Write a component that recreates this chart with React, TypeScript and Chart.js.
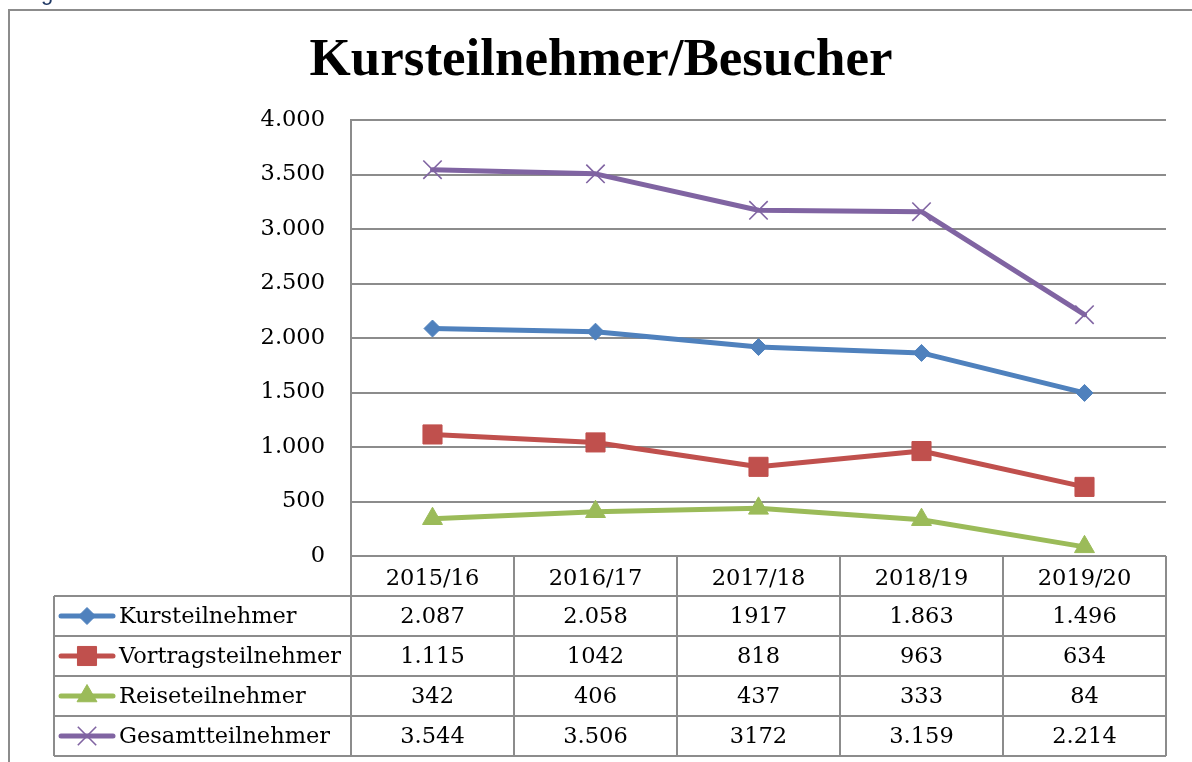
import React, { useEffect, useRef } from 'react';
import { Chart, registerables } from 'chart.js';
import { drawPoint } from 'chart.js/helpers';

Chart.register(...registerables);

const chartTitle = 'Kursteilnehmer/Besucher';
const categories = ['2015/16', '2016/17', '2017/18', '2018/19', '2019/20'];
const seriesNames = ['Kursteilnehmer', 'Vortragsteilnehmer', 'Reiseteilnehmer', 'Gesamtteilnehmer'];
const kursValues = [2087, 2058, 1917, 1863, 1496];
const vortragValues = [1115, 1042, 818, 963, 634];
const reiseValues = [342, 406, 437, 333, 84];
const gesamtValues = [3544, 3506, 3172, 3159, 2214];
const kursText = ['2.087', '2.058', '1917', '1.863', '1.496'];
const vortragText = ['1.115', '1042', '818', '963', '634'];
const reiseText = ['342', '406', '437', '333', '84'];
const gesamtText = ['3.544', '3.506', '3172', '3.159', '2.214'];
const yMin = 0;
const yMax = 4000;
const yStep = 500;

const COLORS = ['#4F81BD', '#C0504D', '#9BBB59', '#8064A2'];
const STYLES = ['rectRot', 'rect', 'triangle', 'crossRot'];
const RADII = [8.5, 13.5, 11.5, 13];
const BORDERS = [1, 1, 1, 1.6];
const GRID = '#8c8c8c';
const FONT = '"DejaVu Serif", serif';
const FONT_SIZE = 22.5;

const fmt = (v: number) => {
  const s = Math.round(v).toString();
  return s.replace(/\B(?=(\d{3})+(?!\d))/g, '.');
};

const HEADER_H = 40;
const ROW_H = 40;
const TABLE_LEFT = 54;

const tablePlugin = {
  id: 'dataTable',
  beforeDatasetsDraw(chart: any) {
    const ctx = chart.ctx;
    const area = chart.chartArea;
    const n = categories.length;
    const colW = (area.right - area.left) / n;
    const top = area.bottom;
    const bottom = top + HEADER_H + seriesNames.length * ROW_H;
    ctx.save();
    ctx.strokeStyle = GRID;
    ctx.lineWidth = 2;
    ctx.beginPath();
    // outer chart border
    ctx.moveTo(9, 762);
    ctx.lineTo(9, 10);
    ctx.lineTo(1192, 10);
    // horizontal table lines
    for (let i = 0; i <= seriesNames.length; i++) {
      const y = top + HEADER_H + i * ROW_H;
      ctx.moveTo(TABLE_LEFT, y);
      ctx.lineTo(area.right, y);
    }
    // vertical column lines
    for (let i = 0; i <= n; i++) {
      const x = Math.round(area.left + i * colW);
      ctx.moveTo(x, top);
      ctx.lineTo(x, bottom);
    }
    ctx.moveTo(TABLE_LEFT, top + HEADER_H);
    ctx.lineTo(TABLE_LEFT, bottom);
    ctx.stroke();
    ctx.restore();
  },
  afterDraw(chart: any) {
    const ctx = chart.ctx;
    const area = chart.chartArea;
    const xs = chart.scales.x;
    const texts = [kursText, vortragText, reiseText, gesamtText];
    ctx.save();
    // fragment of document text above the chart
    ctx.fillStyle = '#1F3864';
    ctx.font = '22px "Liberation Sans", sans-serif';
    ctx.textBaseline = 'alphabetic';
    ctx.textAlign = 'left';
    ctx.fillText('g', 41, 0);

    ctx.font = `${FONT_SIZE}px ${FONT}`;
    ctx.textBaseline = 'middle';
    for (let r = 0; r < seriesNames.length; r++) {
      const y = area.bottom + HEADER_H + ROW_H * (r + 0.5);
      // legend key
      ctx.strokeStyle = COLORS[r];
      ctx.lineWidth = 5;
      ctx.lineCap = 'round';
      ctx.beginPath();
      ctx.moveTo(61, y);
      ctx.lineTo(113, y);
      ctx.stroke();
      ctx.fillStyle = COLORS[r];
      ctx.lineWidth = BORDERS[r];
      ctx.lineCap = 'butt';
      drawPoint(ctx, { pointStyle: STYLES[r], radius: RADII[r], rotation: 0, borderWidth: BORDERS[r] }, 87, y);
      // label
      ctx.fillStyle = '#000';
      ctx.textAlign = 'left';
      ctx.fillText(seriesNames[r], 119, y + 1);
      // values
      ctx.textAlign = 'center';
      for (let i = 0; i < categories.length; i++) {
        ctx.fillText(texts[r][i], xs.getPixelForValue(i), y + 1);
      }
    }
    ctx.restore();
  },
};

export default function App() {
  const ref = useRef<HTMLCanvasElement | null>(null);
  useEffect(() => {
    if (!ref.current) return;
    const allValues = [kursValues, vortragValues, reiseValues, gesamtValues];
    const chart = new Chart(ref.current, {
      type: 'line',
      data: {
        labels: categories,
        datasets: seriesNames.map((name, i) => ({
          label: name,
          data: allValues[i],
          borderColor: COLORS[i],
          backgroundColor: COLORS[i],
          borderWidth: 5,
          borderCapStyle: 'round',
          borderJoinStyle: 'round',
          tension: 0,
          pointStyle: STYLES[i],
          pointRadius: RADII[i],
          pointBackgroundColor: COLORS[i],
          pointBorderColor: COLORS[i],
          pointBorderWidth: BORDERS[i],
          clip: false,
        })) as any,
      },
      options: {
        responsive: false,
        animation: false,
        devicePixelRatio: 1,
        layout: { padding: { left: 36, right: 26, top: 0, bottom: 0 } },
        plugins: {
          legend: { display: false },
          tooltip: { enabled: false },
          title: {
            display: true,
            text: chartTitle,
            color: '#000',
            font: { family: '"Liberation Serif", serif', size: 53, weight: 'bold', lineHeight: 1 },
            padding: { top: 35, bottom: 32 },
          },
        },
        scales: {
          x: {
            type: 'category',
            offset: true,
            grid: { display: false, drawTicks: false },
            border: { display: false },
            ticks: { color: '#000', font: { family: FONT, size: FONT_SIZE }, padding: 10, maxRotation: 0, autoSkip: false },
            afterFit: (s: any) => { s.height = 762 - 556; },
          },
          y: {
            min: yMin,
            max: yMax,
            grid: { color: GRID, lineWidth: 2, drawTicks: false },
            border: { display: true, color: GRID, width: 2 },
            ticks: {
              stepSize: yStep,
              color: '#000',
              font: { family: FONT, size: FONT_SIZE },
              padding: 26,
              callback: (v: any) => fmt(Number(v)),
            },
            afterFit: (s: any) => { s.width = 351 - 36; },
          },
        },
      },
      plugins: [tablePlugin],
    } as any);
    return () => chart.destroy();
  }, []);
  return (
    <div style={{ position: 'fixed', left: 0, top: 0, width: 1192, height: 762, background: '#fff' }}>
      <canvas ref={ref} width={1192} height={762} />
    </div>
  );
}
